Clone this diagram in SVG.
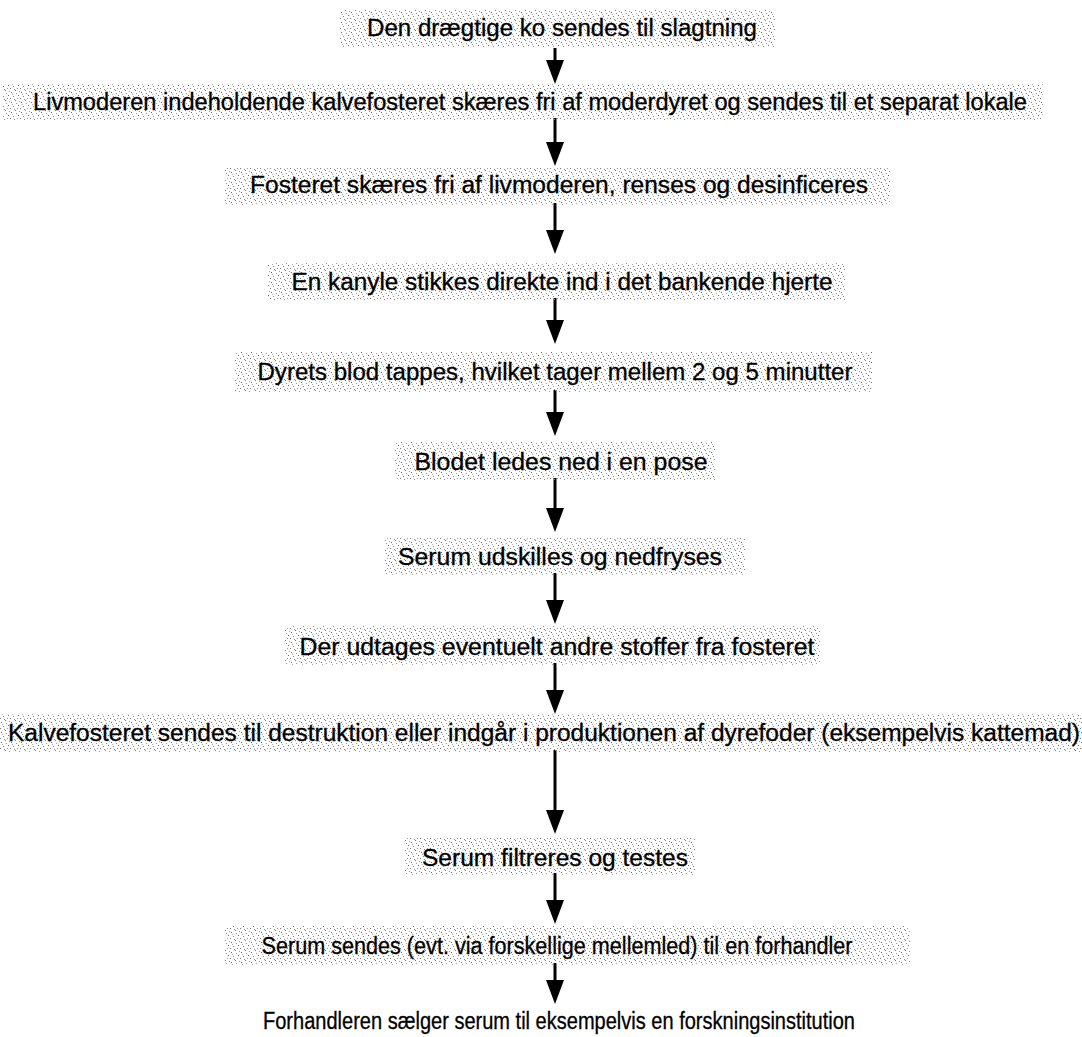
<svg xmlns="http://www.w3.org/2000/svg" width="1082" height="1037" viewBox="0 0 1082 1037">
<defs>
<pattern id="dots" width="10" height="10" patternUnits="userSpaceOnUse">
<rect x="1" y="2" width="1" height="1" fill="#666"/>
<rect x="5" y="0" width="1" height="1" fill="#777"/>
<rect x="8" y="5" width="1" height="1" fill="#666"/>
<rect x="3" y="6" width="1" height="1" fill="#888"/>
<rect x="0" y="8" width="1" height="1" fill="#777"/>
<rect x="6" y="3" width="1" height="1" fill="#999"/>
<rect x="4" y="9" width="1" height="1" fill="#888"/>
<rect x="9" y="1" width="1" height="1" fill="#999"/>
<rect x="2" y="4" width="1" height="1" fill="#aaa"/>
<rect x="7" y="8" width="1" height="1" fill="#999"/>
</pattern>
<marker id="ah" markerUnits="userSpaceOnUse" markerWidth="24" markerHeight="20" refX="10" refY="10" orient="auto">
<path d="M0,1 L24,10 L0,19 z" fill="#000"/>
</marker>
<style>
.bg{fill:url(#dots);}
.t{font-family:"Liberation Sans","Arial",sans-serif;font-size:23px;fill:#000;stroke:#000;stroke-width:0.3;text-anchor:middle;}
.c{stroke:#000;stroke-width:3;fill:none;marker-end:url(#ah);}
</style>
</defs>
<rect width="1082" height="1037" fill="#fff"/>
<g id="connectors">
<line class="c" x1="555" y1="48" x2="555" y2="70"/>
<line class="c" x1="555" y1="118" x2="555" y2="152"/>
<line class="c" x1="555" y1="203" x2="555" y2="240"/>
<line class="c" x1="555" y1="298" x2="555" y2="330"/>
<line class="c" x1="555" y1="390" x2="555" y2="422"/>
<line class="c" x1="555" y1="478" x2="555" y2="518"/>
<line class="c" x1="555" y1="573" x2="555" y2="610"/>
<line class="c" x1="555" y1="663" x2="555" y2="700"/>
<line class="c" x1="555" y1="750" x2="555" y2="820"/>
<line class="c" x1="555" y1="873" x2="555" y2="910"/>
<line class="c" x1="555" y1="963" x2="555" y2="990"/>
</g>
<g id="n1"><rect class="bg" x="340" y="10" width="435" height="38"/><text class="t" x="562" y="36" textLength="390" lengthAdjust="spacingAndGlyphs">Den drægtige ko sendes til slagtning</text></g>
<g id="n2"><rect class="bg" x="3" y="84" width="1040" height="36"/><text class="t" x="530" y="110" textLength="994" lengthAdjust="spacingAndGlyphs">Livmoderen indeholdende kalvefosteret skæres fri af moderdyret og sendes til et separat lokale</text></g>
<g id="n3"><rect class="bg" x="225" y="167" width="665" height="38"/><text class="t" x="559" y="193" textLength="618" lengthAdjust="spacingAndGlyphs">Fosteret skæres fri af livmoderen, renses og desinficeres</text></g>
<g id="n4"><rect class="bg" x="268" y="263" width="577" height="37"/><text class="t" x="562" y="290" textLength="541" lengthAdjust="spacingAndGlyphs">En kanyle stikkes direkte ind i det bankende hjerte</text></g>
<g id="n5"><rect class="bg" x="235" y="352" width="637" height="40"/><text class="t" x="555" y="380" textLength="595" lengthAdjust="spacingAndGlyphs">Dyrets blod tappes, hvilket tager mellem 2 og 5 minutter</text></g>
<g id="n6"><rect class="bg" x="395" y="442" width="320" height="38"/><text class="t" x="561" y="470" textLength="293" lengthAdjust="spacingAndGlyphs">Blodet ledes ned i en pose</text></g>
<g id="n7"><rect class="bg" x="385" y="538" width="360" height="37"/><text class="t" x="560" y="565" textLength="324" lengthAdjust="spacingAndGlyphs">Serum udskilles og nedfryses</text></g>
<g id="n8"><rect class="bg" x="285" y="626" width="535" height="39"/><text class="t" x="557" y="655" textLength="515" lengthAdjust="spacingAndGlyphs">Der udtages eventuelt andre stoffer fra fosteret</text></g>
<g id="n9"><rect class="bg" x="0" y="714" width="1082" height="38"/><text class="t" x="544" y="741" textLength="1072" lengthAdjust="spacingAndGlyphs">Kalvefosteret sendes til destruktion eller indgår i produktionen af dyrefoder (eksempelvis kattemad)</text></g>
<g id="n10"><rect class="bg" x="405" y="838" width="290" height="37"/><text class="t" x="555" y="866" textLength="266" lengthAdjust="spacingAndGlyphs">Serum filtreres og testes</text></g>
<g id="n11"><rect class="bg" x="225" y="926" width="685" height="39"/><text class="t" x="557" y="954" textLength="591" lengthAdjust="spacingAndGlyphs">Serum sendes (evt. via forskellige mellemled) til en forhandler</text></g>
<g id="n12"><text class="t" x="559" y="1029" textLength="592" lengthAdjust="spacingAndGlyphs">Forhandleren sælger serum til eksempelvis en forskningsinstitution</text></g>
</svg>
